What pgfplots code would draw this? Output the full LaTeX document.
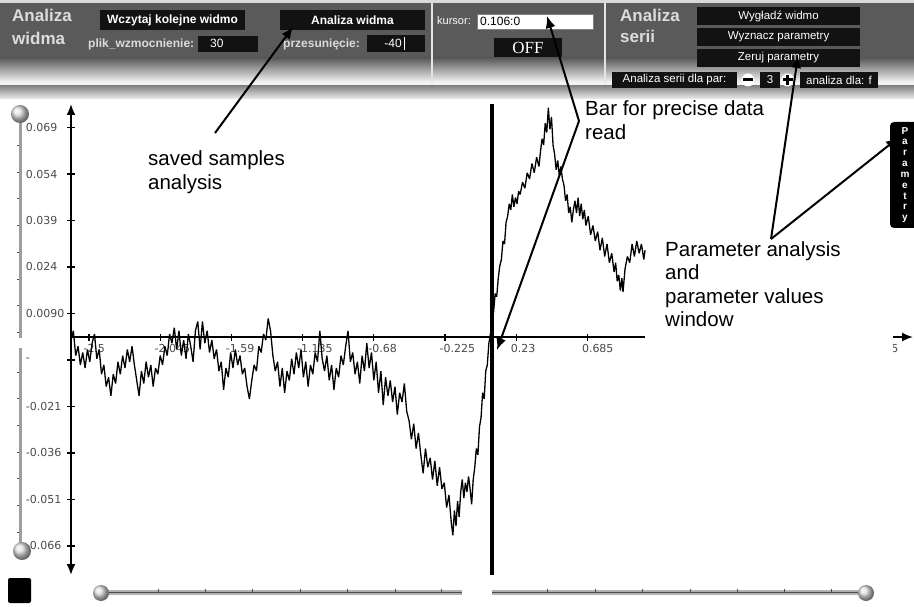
\documentclass[border=0pt]{standalone}
\usepackage{pgfplots}
\pgfplotsset{compat=1.18}
\usepackage{pgfplotstable}
\usepackage{fontspec}
\setmainfont{Liberation Sans}
\newfontfamily\dv{DejaVu Sans}
\newfontfamily\tnr{Liberation Serif}
\usetikzlibrary{arrows.meta}
\definecolor{hdr}{HTML}{5A5A5A}
\definecolor{hdrl}{HTML}{F3F3F3}
\definecolor{btn}{HTML}{121212}
\definecolor{lbl}{HTML}{DCDCDC}
\definecolor{tickc}{HTML}{4A4A4A}

\pgfplotstableread{
x y
-2.615 -0.001
-2.600 0.002
-2.585 -0.006
-2.570 -0.003
-2.555 -0.009
-2.540 -0.005
-2.525 -0.010
-2.510 -0.004
-2.495 -0.008
-2.480 -0.002
-2.465 0.001
-2.450 -0.007
-2.435 -0.004
-2.420 -0.012
-2.405 -0.009
-2.390 -0.016
-2.375 -0.013
-2.360 -0.019
-2.345 -0.012
-2.330 -0.015
-2.315 -0.008
-2.300 -0.012
-2.285 -0.006
-2.270 -0.010
-2.255 -0.004
-2.240 -0.008
-2.225 -0.003
-2.210 -0.009
-2.195 -0.014
-2.180 -0.019
-2.165 -0.011
-2.150 -0.015
-2.135 -0.008
-2.120 -0.013
-2.105 -0.009
-2.090 -0.016
-2.075 -0.010
-2.060 -0.012
-2.045 -0.006
-2.030 -0.009
-2.015 -0.003
-2.000 -0.006
-1.985 0.001
-1.970 -0.002
-1.955 0.003
-1.940 -0.004
-1.925 0.002
-1.910 -0.006
-1.895 -0.001
-1.880 -0.007
-1.865 0.001
-1.850 -0.003
-1.835 -0.008
-1.820 0.002
-1.805 0.005
-1.790 -0.004
-1.775 0.005
-1.760 -0.002
-1.745 0.002
-1.730 -0.005
-1.715 -0.001
-1.700 -0.007
-1.685 -0.004
-1.670 -0.011
-1.655 -0.008
-1.640 -0.017
-1.625 -0.010
-1.610 -0.013
-1.595 -0.005
-1.580 -0.010
-1.565 -0.004
-1.550 -0.009
-1.535 -0.006
-1.520 -0.012
-1.505 -0.010
-1.490 -0.016
-1.475 -0.020
-1.460 -0.014
-1.445 -0.009
-1.430 -0.011
-1.415 -0.003
-1.400 -0.005
-1.385 0.001
-1.370 -0.001
-1.355 0.006
-1.340 0.002
-1.325 -0.006
-1.310 -0.011
-1.295 -0.008
-1.280 -0.016
-1.265 -0.010
-1.250 -0.018
-1.235 -0.011
-1.220 -0.014
-1.205 -0.007
-1.190 -0.012
-1.175 -0.005
-1.160 -0.010
-1.145 -0.004
-1.130 -0.013
-1.115 -0.008
-1.100 -0.016
-1.085 -0.009
-1.070 -0.012
-1.055 -0.005
-1.040 -0.008
-1.025 0.002
-1.010 -0.007
-0.995 -0.011
-0.980 -0.006
-0.965 -0.014
-0.950 -0.009
-0.935 -0.017
-0.920 -0.010
-0.905 -0.013
-0.890 -0.006
-0.875 -0.009
-0.860 -0.003
-0.845 0.002
-0.830 -0.008
-0.815 -0.005
-0.800 -0.012
-0.785 -0.008
-0.770 -0.015
-0.755 -0.006
-0.740 -0.011
-0.725 -0.002
-0.710 -0.010
-0.695 -0.005
-0.680 -0.014
-0.665 -0.008
-0.650 -0.018
-0.635 -0.011
-0.620 -0.022
-0.605 -0.013
-0.590 -0.019
-0.575 -0.014
-0.560 -0.021
-0.545 -0.016
-0.530 -0.025
-0.515 -0.018
-0.500 -0.021
-0.485 -0.015
-0.470 -0.024
-0.455 -0.027
-0.440 -0.033
-0.425 -0.028
-0.410 -0.036
-0.395 -0.031
-0.380 -0.038
-0.365 -0.044
-0.350 -0.036
-0.335 -0.042
-0.320 -0.039
-0.305 -0.046
-0.290 -0.040
-0.275 -0.048
-0.260 -0.042
-0.245 -0.049
-0.230 -0.047
-0.215 -0.055
-0.200 -0.051
-0.185 -0.060
-0.175 -0.064
-0.165 -0.056
-0.155 -0.061
-0.145 -0.053
-0.135 -0.058
-0.125 -0.050
-0.115 -0.046
-0.105 -0.052
-0.095 -0.047
-0.085 -0.050
-0.075 -0.045
-0.065 -0.049
-0.055 -0.054
-0.045 -0.046
-0.035 -0.042
-0.025 -0.036
-0.015 -0.038
-0.005 -0.029
0.005 -0.026
0.015 -0.018
0.025 -0.020
0.035 -0.011
0.045 -0.009
0.055 -0.002
0.065 0.001
0.075 0.006
0.085 0.008
0.095 0.014
0.105 0.013
0.115 0.019
0.125 0.023
0.135 0.025
0.145 0.031
0.155 0.030
0.165 0.037
0.175 0.039
0.185 0.043
0.195 0.041
0.205 0.046
0.215 0.042
0.225 0.045
0.235 0.043
0.245 0.047
0.255 0.046
0.270 0.050
0.285 0.048
0.300 0.053
0.315 0.051
0.330 0.056
0.345 0.053
0.360 0.058
0.375 0.055
0.385 0.060
0.395 0.064
0.405 0.062
0.415 0.069
0.425 0.066
0.435 0.074
0.445 0.067
0.455 0.071
0.465 0.062
0.475 0.059
0.485 0.054
0.495 0.057
0.505 0.052
0.515 0.055
0.525 0.051
0.535 0.049
0.545 0.044
0.555 0.046
0.565 0.040
0.575 0.042
0.585 0.037
0.595 0.041
0.605 0.044
0.615 0.040
0.625 0.045
0.635 0.039
0.645 0.043
0.655 0.038
0.665 0.041
0.675 0.036
0.690 0.039
0.705 0.033
0.720 0.036
0.735 0.031
0.750 0.034
0.765 0.028
0.780 0.032
0.795 0.026
0.810 0.030
0.825 0.024
0.840 0.027
0.855 0.021
0.865 0.024
0.875 0.018
0.885 0.020
0.895 0.015
0.905 0.019
0.912 0.0145
0.925 0.022
0.940 0.026
0.955 0.024
0.970 0.030
0.985 0.026
1.000 0.031
1.015 0.027
1.030 0.030
1.045 0.025
1.053 0.028
}\sig

\begin{document}
\begin{tikzpicture}[x=1pt,y=1pt]
\useasboundingbox (0,0) rectangle (914,606);
\fill[white] (0,0) rectangle (914,606);
% header shadings (canvas coords, Y = 606 - py)
\fill[white!85!black] (0,603) rectangle (914,606);
\fill[hdr] (0,548) rectangle (914,603);
\shade[top color=hdr, bottom color=hdrl] (0,524) rectangle (914,548);
\fill[hdrl] (0,520) rectangle (914,524);
\shade[top color=white!52!black, bottom color=white!93!black] (0,507) rectangle (914,520);

\begin{scope}[shift={(0,606)}, yscale=-1]
% dividers
\draw[white!80!gray, line width=1.2pt] (432,3) -- (432,84);
\draw[white!80!gray, line width=1.2pt] (605,3) -- (605,84);
% left panel
\node[anchor=base west, inner sep=0, text=lbl, font=\bfseries\fontsize{17}{20}\selectfont] at (12,22) {Analiza};
\node[anchor=base west, inner sep=0, text=lbl, font=\bfseries\fontsize{17}{20}\selectfont] at (12,45) {widma};
\fill[btn] (100,10) rectangle (245,30);
\node[text=white, font=\bfseries\fontsize{12}{14}\selectfont] at (172.5,20) {Wczytaj kolejne widmo};
\node[anchor=base west, inner sep=0, text=lbl, font=\bfseries\fontsize{12}{14}\selectfont] at (88,48) {plik\_wzmocnienie:};
\fill[btn] (198,36) rectangle (258,52);
\node[anchor=base west, inner sep=0, text=white, font=\fontsize{12}{14}\selectfont] at (210,48) {30};
\fill[btn] (280,10) rectangle (425,30);
\node[text=white, font=\bfseries\fontsize{12}{14}\selectfont] at (352.5,20) {Analiza widma};
\node[anchor=base west, inner sep=0, text=lbl, font=\bfseries\fontsize{12}{14}\selectfont] at (283,48) {przesunięcie:};
\fill[btn] (367,35) rectangle (425,52);
\node[anchor=base east, inner sep=0, text=white, font=\fontsize{12}{14}\selectfont] at (402,48) {-40};
\draw[white, line width=0.8pt] (404,37) -- (404,50);
% middle panel
\node[anchor=base west, inner sep=0, text=white, font=\fontsize{11}{13}\selectfont] at (437,25) {kursor:};
\fill[white] (477,14) rectangle (593,29);
\draw[gray, line width=0.5pt] (477,14) rectangle (593,29);
\node[anchor=base west, inner sep=0, text=black, font=\fontsize{12}{14}\selectfont] at (480,26) {0.106:0};
\fill[btn] (494,38) rectangle (562,57);
\node[text=white, font=\tnr\fontsize{17}{19}\selectfont] at (528,48) {OFF};
% right panel
\node[anchor=base west, inner sep=0, text=lbl, font=\bfseries\fontsize{17}{20}\selectfont] at (620,22) {Analiza};
\node[anchor=base west, inner sep=0, text=lbl, font=\bfseries\fontsize{17}{20}\selectfont] at (620,43) {serii};
\fill[btn] (697,7) rectangle (860,25);
\node[text=white, font=\fontsize{11.5}{13}\selectfont] at (778.5,16) {Wygładź widmo};
\fill[btn] (697,28) rectangle (860,46);
\node[text=white, font=\fontsize{11.5}{13}\selectfont] at (778.5,37) {Wyznacz parametry};
\fill[btn] (697,49) rectangle (860,67);
\node[text=white, font=\fontsize{11.5}{13}\selectfont] at (778.5,58) {Zeruj parametry};
\fill[btn] (612,72) rectangle (737,88);
\node[text=white, font=\fontsize{11.5}{13}\selectfont] at (674.5,80) {Analiza serii dla par:};
\fill[white] (748,80) circle (6.5);
\fill[black] (743,78.5) rectangle (753,81.5);
\fill[btn] (760,72) rectangle (780,88);
\node[text=white, font=\fontsize{11.5}{13}\selectfont] at (770,80) {3};
\fill[white] (787.5,80) circle (6.5);
\fill[black] (782.5,78.5) rectangle (792.5,81.5);
\fill[black] (786,75) rectangle (789,85);
\fill[btn] (800,72) rectangle (878,88);
\node[text=white, font=\fontsize{11.5}{13}\selectfont] at (839,80) {analiza dla: f};
\end{scope}

\begin{axis}[
  at={(71pt,31pt)}, anchor=south west,
  scale only axis, width=842pt, height=471pt,
  xmin=-2.615, xmax=2.765, ymin=-0.0768, ymax=0.0752,
  enlargelimits=false,
  scaled ticks=false,
  axis x line=middle, axis y line=left,
  axis line style={line width=1.8pt, black, >={Latex[length=11pt,width=9pt]}},
  x axis line style={->},
  y axis line style={<->},
  xtick={-2.5,-2.045,-1.59,-1.135,-0.68,-0.225,0.23,0.685,1.14,1.595,2.05,2.505},
  xticklabels={-2.5,-2.045,-1.59,-1.135,-0.68,-0.225,0.23,0.685,1.14,1.595,2.05,2.505},
  ytick={-0.0674,-0.0524,-0.0374,-0.0224,-0.0074,0.0076,0.0226,0.0376,0.0526,0.0676},
  yticklabels={-0.066,-0.051,-0.036,-0.021,-,0.0090,0.024,0.039,0.054,0.069},
  tick align=center, major tick length=7pt,
  tick style={line width=1.3pt, black},
  xticklabel style={anchor=north west, xshift=-9pt},
  yticklabel style={anchor=east, text width=38pt, align=left},
  tick label style={font=\dv\fontsize{11}{13}\selectfont, text=tickc},
  clip=false,
]
\addplot[black, line width=1.3pt, line join=bevel] table {\sig};
\addplot[black, line width=4pt] coordinates {(0.0754,-0.0768) (0.0754,0.0752)};
\end{axis}

\begin{scope}[shift={(0,606)}, yscale=-1]
% white overlay panel hiding the right part of the x axis
\fill[white] (645,324) rectangle (893,362);
% annotations
\foreach \t/\x/\y in {saved samples/148/166, analysis/148/190,
   Bar for precise data/585/116, read/585/140,
   Parameter analysis/665/257, and/665/280, parameter values/665/304, window/665/327}
  \node[anchor=base west, inner sep=0, font=\fontsize{20.5}{24}\selectfont] at (\x,\y) {\t};
\draw[line width=2pt, -{Latex[length=12pt,width=10pt]}] (215,133) -- (293,27);
\draw[line width=2pt, -{Latex[length=12pt,width=10pt]}] (579,121) -- (547,16);
\draw[line width=2pt, -{Latex[length=12pt,width=10pt]}] (579,121) -- (497,350);
\draw[line width=2pt, -{Latex[length=12pt,width=10pt]}] (771,239) -- (798,56);
\draw[line width=2pt, -{Latex[length=12pt,width=10pt]}] (771,239) -- (898,138);
% Parametry tab
\fill[black, rounded corners=4pt] (890,122) -- (918,122) -- (918,228) -- (890,228) -- cycle;
\node[text=white, align=center, font=\bfseries\fontsize{10}{10.8}\selectfont] at (905,175) {P\\a\\r\\a\\m\\e\\t\\r\\y};
% left vertical slider
\fill[white!62!black] (18.5,113) rectangle (21.5,338);
\fill[white!62!black] (18.5,348) rectangle (21.5,549);
\foreach \yy in {145,172,198,225,252,279,305,332,372,398,425,452,478,505,532}
  \draw[black!70, line width=0.6pt] (16.5,\yy) -- (19,\yy);
\shade[ball color=white!75!gray] (20,114) circle (9);
\shade[ball color=white!75!gray] (22,551) circle (9);
% bottom slider
\fill[white!70!black] (95,590) rectangle (462,595);
\fill[white!70!black] (492,590) rectangle (868,595);
\draw[black!70, line width=0.8pt] (95,592) -- (462,592);
\draw[black!70, line width=0.8pt] (492,592) -- (868,592);
\foreach \xx in {158,205,252,300,347,395,441,547,595,642,690,737,784,831}
  \draw[black!70, line width=0.6pt] (\xx,588.5) -- (\xx,592);
\shade[ball color=white!75!gray] (101,593) circle (8);
\shade[ball color=white!75!gray] (866,593) circle (8);
% black square
\fill[black, rounded corners=2pt] (8,578) rectangle (31,603);
\end{scope}
\end{tikzpicture}
\end{document}
